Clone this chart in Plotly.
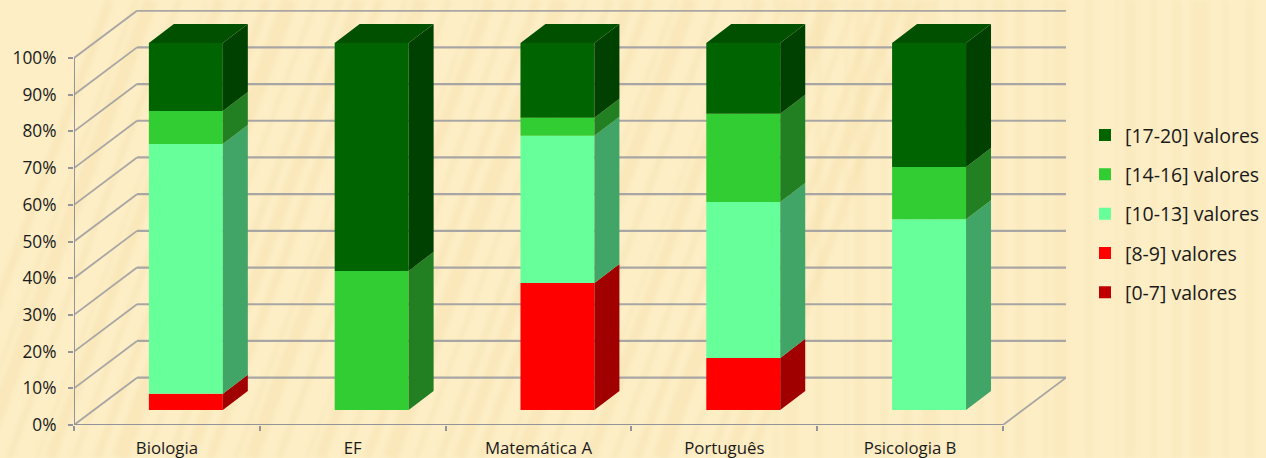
import base64
import plotly.graph_objects as go

categories = ["Biologia", "EF", "Matemática A", "Português", "Psicologia B"]
grade_0_7 = [0, 0, 0, 0, 0]
grade_8_9 = [4.4, 0, 34.6, 14.2, 0]
grade_10_13 = [68.1, 0, 40.1, 42.5, 52.0]
grade_14_16 = [9.0, 37.9, 4.9, 24.0, 14.2]
grade_17_20 = [18.5, 62.1, 20.4, 19.3, 33.8]
series_names = ["[0-7] valores", "[8-9] valores", "[10-13] valores", "[14-16] valores", "[17-20] valores"]
series_values = [grade_0_7, grade_8_9, grade_10_13, grade_14_16, grade_17_20]
front_colors = ["#C00000", "#FF0000", "#66FF99", "#32CD32", "#006400"]
side_colors = ["#800000", "#A00000", "#40A566", "#228022", "#004000"]
top_color = "#005000"
y_ticks = list(range(0, 101, 10))
y_labels = [f"{v}%" for v in y_ticks]

W, H = 1266, 458
L, R, T, B = 74, 200, 10, 33
WALL_DX, WALL_DY = 0.339, 12.9
BAR_SHIFT_X, BAR_SHIFT_Y = 0.102, 4.09
BAR_W = 0.398
BAR_DX, BAR_DY = 0.1345, 5.18
X0, X1 = -0.5, len(categories) - 0.5
GRID = "#A8A6A4"
AXIS = "#93939B"

fig = go.Figure()
centers = list(range(len(categories)))

cum = [0.0] * len(categories)
polys = []
for s, (name, vals, col, side) in enumerate(zip(series_names, series_values, front_colors, side_colors)):
    fig.add_trace(go.Bar(
        x=[c + BAR_SHIFT_X for c in centers], y=vals,
        base=[b + BAR_SHIFT_Y for b in cum],
        width=BAR_W, name=name, legendgroup=name, legendrank=100 - s,
        marker=dict(color=col, line=dict(width=0)), hoverinfo="skip"))
    xs, ys = [], []
    for i, c in enumerate(centers):
        if vals[i] <= 0:
            continue
        xr = c + BAR_SHIFT_X + BAR_W / 2
        lo = cum[i] + BAR_SHIFT_Y
        hi = lo + vals[i]
        xs += [xr, xr + BAR_DX, xr + BAR_DX, xr, xr, None]
        ys += [lo, lo + BAR_DY, hi + BAR_DY, hi, lo, None]
    if xs:
        polys.append((xs, ys, side))
    cum = [a + b for a, b in zip(cum, vals)]

for xs, ys, side in polys:
    fig.add_trace(go.Scatter(x=xs, y=ys, mode="lines", fill="toself", fillcolor=side,
                             line=dict(width=0), showlegend=False, hoverinfo="skip"))

xs, ys = [], []
for i, c in enumerate(centers):
    xl = c + BAR_SHIFT_X - BAR_W / 2
    xr = xl + BAR_W
    top = cum[i] + BAR_SHIFT_Y
    xs += [xl, xr, xr + BAR_DX, xl + BAR_DX, xl, None]
    ys += [top, top, top + BAR_DY, top + BAR_DY, top, None]
fig.add_trace(go.Scatter(x=xs, y=ys, mode="lines", fill="toself", fillcolor=top_color,
                         line=dict(width=0), showlegend=False, hoverinfo="skip"))

shapes = []
def seg(x0, y0, x1, y1, color, width):
    shapes.append(dict(type="line", xref="x", yref="y", x0=x0, y0=y0, x1=x1, y1=y1,
                       line=dict(color=color, width=width), layer="below"))

for v in y_ticks:
    seg(X0, v, X0 + WALL_DX, v + WALL_DY, GRID, 1.8)
    seg(X0 + WALL_DX, v + WALL_DY, X1 + WALL_DX, v + WALL_DY, GRID, 2.2)
seg(X0, 0, X1, 0, AXIS, 2)
seg(X1, 0, X1 + WALL_DX, WALL_DY, GRID, 1.8)
seg(X0, 0, X0, 100, AXIS, 2)

# Paper texture: soft slanted streaks on the left, vertical streaks on the right
streak_widths = [9, 4, 14, 6, 3, 11, 5, 8, 16, 4, 7, 12]
svg = [f'<svg xmlns="http://www.w3.org/2000/svg" width="{W}" height="{H}">',
       '<defs><filter id="b"><feGaussianBlur stdDeviation="2"/></filter></defs>',
       f'<rect width="{W}" height="{H}" fill="#FDEEC6"/>', '<g filter="url(#b)">']
x = -60
k = 0
while x < W:
    w = streak_widths[k % len(streak_widths)]
    if x < 760:
        svg.append(f'<line x1="{x + 170}" y1="0" x2="{x}" y2="{H}" stroke="#F3DDA6" stroke-opacity="0.35" stroke-width="{w}"/>')
    else:
        svg.append(f'<line x1="{x}" y1="0" x2="{x}" y2="{H}" stroke="#F6E2AE" stroke-opacity="0.35" stroke-width="{w}"/>')
    x += w + streak_widths[(k + 5) % len(streak_widths)] + 6
    k += 1
svg.append('</g></svg>')
bg = "data:image/svg+xml;base64," + base64.b64encode("".join(svg).encode()).decode()
plot_w = W - L - R
plot_h = H - T - B

FONT = "Open Sans"
fig.update_layout(
    width=W, height=H, autosize=False,
    margin=dict(l=L, r=R, t=T, b=B, pad=0, autoexpand=False),
    paper_bgcolor="#FDEEC6", plot_bgcolor="rgba(0,0,0,0)",
    barmode="overlay", shapes=shapes,
    font=dict(family=FONT, color="#1A1A1A", size=16),
    images=[dict(source=bg, xref="paper", yref="paper", x=-L / plot_w, y=1 + T / plot_h,
                 sizex=W / plot_w, sizey=H / plot_h, xanchor="left", yanchor="top",
                 sizing="stretch", layer="below")],
    legend=dict(x=(1085 - L) / plot_w, xanchor="left", y=0.509, yanchor="middle",
                traceorder="grouped",
                font=dict(size=19.5, family=FONT), tracegroupgap=11, bgcolor="rgba(0,0,0,0)"),
    xaxis=dict(range=[X0, X1 + WALL_DX], tickmode="array", tickvals=centers, ticktext=categories,
               ticks="", showgrid=False, showline=False, zeroline=False, fixedrange=True,
               automargin=False, tickfont=dict(size=16.8, family=FONT), ticklabelstandoff=11,
               minor=dict(tickmode="array", tickvals=[X0 + i for i in range(len(categories) + 1)],
                          ticks="outside", ticklen=5, tickwidth=2, tickcolor=AXIS, showgrid=False)),
    yaxis=dict(range=[0, 113.08], tickmode="array", tickvals=y_ticks, ticktext=y_labels,
               ticks="outside", ticklen=5, tickwidth=2, tickcolor=AXIS, showgrid=False,
               showline=False, zeroline=False, fixedrange=True, automargin=False, ticklabelstandoff=8,
               tickfont=dict(size=17.3, family=FONT)),
)

fig.write_html("out.html", config=dict(displayModeBar=False),
               post_script="document.body.style.margin='0';document.documentElement.style.overflow='hidden';")
